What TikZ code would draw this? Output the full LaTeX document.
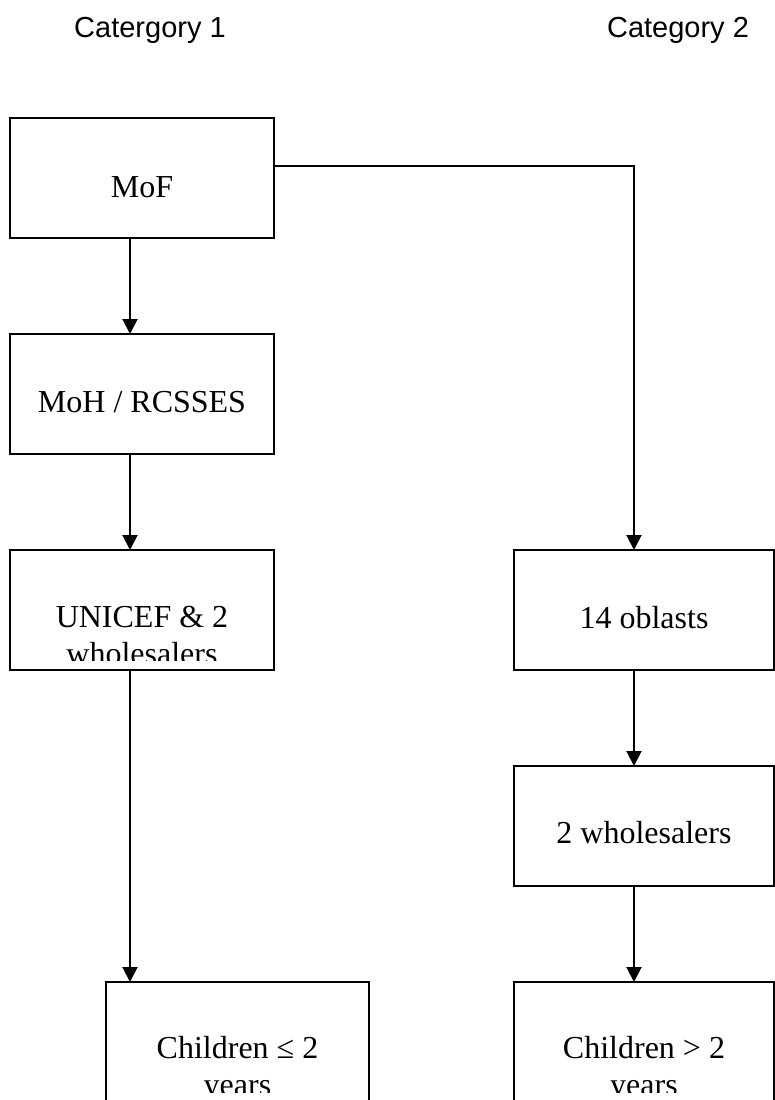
\documentclass[tikz,border=0pt]{standalone}
\usepackage{fontspec}
\setmainfont{Liberation Serif}
\newfontfamily\catfont{Liberation Sans}
\usetikzlibrary{positioning,arrows.meta}

\newcommand{\twolines}[2]{\vtop{\halign{\hfil##\hfil\cr#1\cr#2\cr}}}

\tikzset{
  box/.style={draw, line width=2pt, minimum width=264pt, minimum height=120pt, inner sep=0pt, outer sep=0pt},
  rbox/.style={box, minimum width=260pt},
  boxtext/.style={font=\fontsize{32}{37}\selectfont, anchor=base, inner sep=0pt},
  cattext/.style={font=\catfont\fontsize{29}{33}\selectfont, anchor=base, inner sep=0pt},
  flow/.style={line width=2pt, -{Triangle[length=15pt,width=15pt]}},
}

\begin{document}
\begin{tikzpicture}[x=1pt, y=1pt, node distance=96pt]
  \useasboundingbox (0,0) rectangle (775,-1100);
  \clip (0,0) rectangle (775,-1100);

  % Column headings
  \node[cattext] (cat1) at (150,-37) {Catergory 1};
  \node[cattext] (cat2) at (678,-37) {Category 2};

  % Boxes
  \node[box]                         (mof) at (142,-178) {};
  \node[box,  below=of mof]          (moh) {};
  \node[box,  below=of moh]          (unicef) {};
  \node[rbox, right=240pt of unicef] (oblasts) {};
  \node[rbox, below=of oblasts]      (whole) {};
  \node[rbox, below=of whole]        (older) {};
  \node[box, minimum width=263pt]    (younger) at (237.5,-1042) {};

  % Texts
  \node[boxtext] (moftext)     at ([yshift=-79pt]mof.north)     {MoF};
  \node[boxtext] (mohtext)     at ([yshift=-78pt]moh.north)     {MoH / RCSSES};
  \node[boxtext] (oblaststext) at ([yshift=-78pt]oblasts.north) {14 oblasts};
  \node[boxtext] (wholetext)   at ([yshift=-77pt]whole.north)   {2 wholesalers};
  \begin{scope}
    \clip (unicef.north west) rectangle ([yshift=10pt]unicef.south east);
    \node[boxtext] (uniceftext) at ([yshift=-77pt]unicef.north) {\twolines{UNICEF \& 2}{wholesalers}};
  \end{scope}
  \begin{scope}
    \clip (younger.north west) rectangle ([yshift=10pt]younger.south east);
    \node[boxtext] (youngertext) at ([yshift=-76pt]younger.north) {\twolines{Children ≤ 2}{years}};
  \end{scope}
  \begin{scope}
    \clip (older.north west) rectangle ([yshift=10pt]older.south east);
    \node[boxtext] (oldertext) at ([yshift=-76pt]older.north) {\twolines{Children > 2}{years}};
  \end{scope}

  % Connect the boxes
  \draw[flow] ([xshift=-12pt]mof.south)    -- ([xshift=-12pt]moh.north);
  \draw[flow] ([xshift=-12pt]moh.south)    -- ([xshift=-12pt]unicef.north);
  \draw[flow] ([xshift=-12pt]unicef.south) -- ([xshift=-12pt]unicef.south |- younger.north);
  \draw[flow] ([yshift=12pt]mof.east)      -| ([xshift=-10pt]oblasts.north);
  \draw[flow] ([xshift=-10pt]oblasts.south) -- ([xshift=-10pt]whole.north);
  \draw[flow] ([xshift=-10pt]whole.south)   -- ([xshift=-10pt]older.north);
\end{tikzpicture}
\end{document}
